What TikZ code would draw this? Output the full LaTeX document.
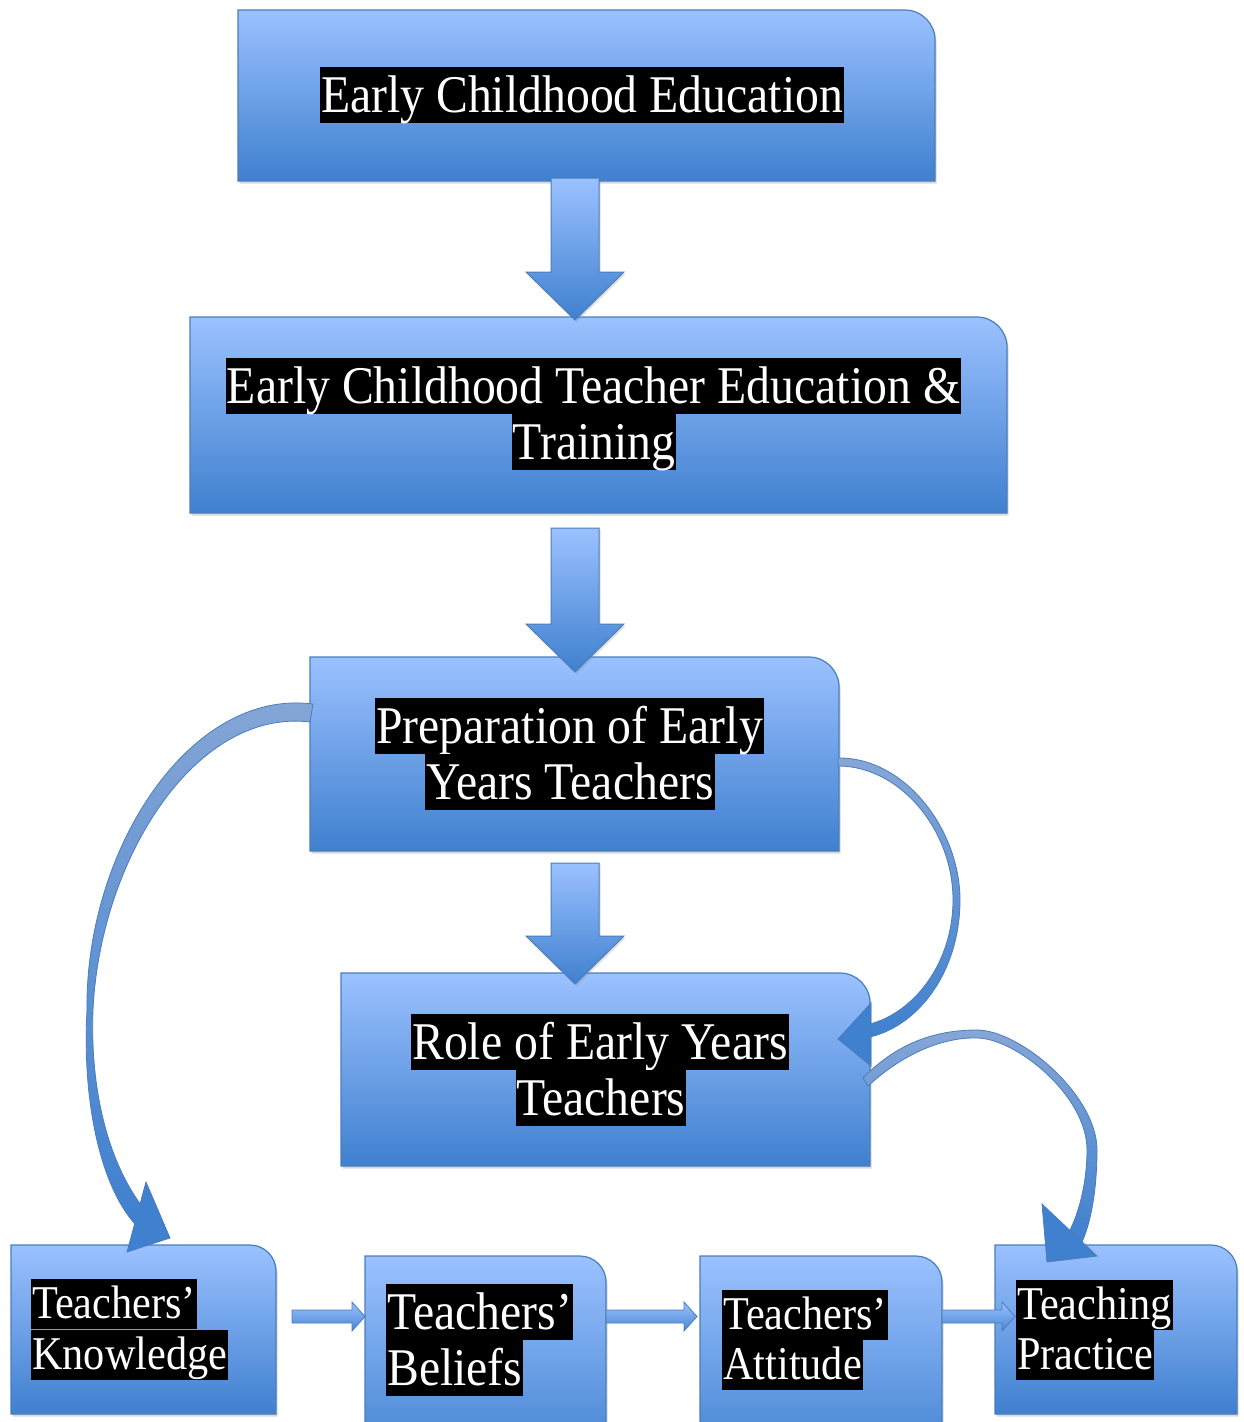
\documentclass[tikz,border=0pt]{standalone}
\usepackage{fontspec}
\setmainfont{Liberation Serif}[FakeStretch=0.9]
\usetikzlibrary{calc,shadows}
\definecolor{boxtop}{HTML}{9BC1FF}
\definecolor{boxbot}{HTML}{3F80CF}
\definecolor{boxline}{HTML}{4A7EBB}
\definecolor{arrtop}{HTML}{86A6D6}
\tikzset{
  boxarea/.style={rectangle, inner sep=0pt, outer sep=0pt},
  boxbody/.style={top color=boxtop, bottom color=boxbot, draw=boxline, line width=1.2pt,
    drop shadow={shadow xshift=1.5pt, shadow yshift=-2.5pt, opacity=0.3}},
  bigarrow/.style={top color=boxtop, bottom color=boxbot, draw=boxline, line width=1pt,
    drop shadow={shadow xshift=1.5pt, shadow yshift=-2pt, opacity=0.25}},
  smallarrow/.style={top color=boxtop, bottom color=boxbot!90!boxtop, draw=boxline, line width=0.8pt},
  curvebody/.style={top color=arrtop, bottom color=boxbot, draw=boxline, line width=0.8pt},
  curvehead/.style={fill=boxbot, draw=boxline, line width=0.8pt},
  lblA/.style={fill=black, text=white, inner xsep=1pt, inner ysep=0.5pt,
    font=\fontsize{53}{56}\selectfont, text height=45pt, text depth=10pt},
  lblB/.style={fill=black, text=white, inner xsep=1pt, inner ysep=0.5pt,
    font=\fontsize{47}{50}\selectfont, text height=39pt, text depth=10pt}
}
\newcommand\drawbox[2]{%
  \path[boxbody] (#1.south west) -- (#1.north west) -- ([xshift=-#2]#1.north east)
    .. controls ([xshift=-0.45*#2]#1.north east) and ([yshift=-0.45*#2]#1.north east)
    .. ([yshift=-#2]#1.north east) -- (#1.south east) -- cycle;}
\newcommand\vblock[4]{%
  \path[bigarrow] let \p1=(#1.south), \p2=(#2.north) in
    (551pt,\y1+#3) -- (599pt,\y1+#3) -- (599pt,\y2+#4+48pt) -- (624pt,\y2+#4+48pt)
    -- (575pt,\y2+#4) -- (526pt,\y2+#4+48pt) -- (551pt,\y2+#4+48pt) -- cycle;}
\newcommand\hblock[4]{%
  \path[smallarrow] let \p1=(#1.east), \p2=(#2.west) in
    (\x1+#3,-1310pt) -- (\x2+#4-13pt,-1310pt) -- (\x2+#4-13pt,-1302pt) -- (\x2+#4,-1316.5pt)
    -- (\x2+#4-13pt,-1331pt) -- (\x2+#4-13pt,-1323pt) -- (\x1+#3,-1323pt) -- cycle;}
\begin{document}
\begin{tikzpicture}[x=1pt,y=-1pt]
\clip (0,0) rectangle (1244,1422);
\fill[white] (0,0) rectangle (1244,1422);
% box areas
\node[boxarea, minimum width=697pt, minimum height=171pt] (ece) at (586.5,95.5) {};
\node[boxarea, minimum width=817pt, minimum height=196pt] (ecte) at (598.5,415) {};
\node[boxarea, minimum width=529pt, minimum height=194pt] (prep) at (574.5,754) {};
\node[boxarea, minimum width=529pt, minimum height=193pt] (role) at (605.5,1069.5) {};
\node[boxarea, minimum width=265pt, minimum height=169pt] (know) at (143.5,1329.5) {};
\node[boxarea, minimum width=241pt, minimum height=214pt] (beli) at (485.5,1363) {};
\node[boxarea, minimum width=242pt, minimum height=214pt] (atti) at (821,1363) {};
\node[boxarea, minimum width=242pt, minimum height=169pt] (prac) at (1116,1329.5) {};
% box bodies
\drawbox{ece}{30pt}
\drawbox{ecte}{30pt}
\drawbox{prep}{30pt}
\drawbox{role}{30pt}
\drawbox{know}{26pt}
\drawbox{beli}{26pt}
\drawbox{atti}{26pt}
\drawbox{prac}{26pt}
% straight block arrows
\vblock{ece}{ecte}{3pt}{-3pt}
\vblock{ecte}{prep}{-15pt}{-15pt}
\vblock{prep}{role}{-12pt}{-11pt}
% small arrows
\hblock{know}{beli}{16pt}{0pt}
\hblock{beli}{atti}{0pt}{-3pt}
\hblock{atti}{prac}{0pt}{20pt}
% curved arrow: preparation -> knowledge
\path[curvebody] (310,722) -- (313,704) .. controls (190,688) and (85,850) .. (87,1010)
  .. controls (82,1100) and (100,1185) .. (135,1224) -- (141,1205)
  .. controls (108,1160) and (90,1090) .. (93,1010)
  .. controls (100,860) and (195,708) .. (310,722) -- cycle;
\path[curvehead] (146,1182) -- (170,1238) -- (127,1252) -- cycle;
% curved arrow: preparation -> role
\path[curvebody] (838,766) -- (838,758) .. controls (905,757) and (960,830) .. (960,900)
  .. controls (960,970) and (920,1025) .. (870,1037) -- (870,1024)
  .. controls (915,1012) and (953,962) .. (953,900)
  .. controls (953,830) and (900,766) .. (838,766) -- cycle;
\path[curvehead] (838,1039) -- (871,1003) -- (871,1066) -- cycle;
% curved arrow: role -> teaching practice
\path[curvebody] (868,1086) -- (863,1078) .. controls (900,1040) and (940,1030) .. (977,1030)
  .. controls (1020,1030) and (1097,1095) .. (1097,1150)
  .. controls (1097,1185) and (1092,1220) .. (1082,1242) -- (1070,1230)
  .. controls (1080,1210) and (1087,1180) .. (1087,1150)
  .. controls (1087,1095) and (1015,1038) .. (977,1038)
  .. controls (945,1037) and (905,1052) .. (868,1086) -- cycle;
\path[curvehead] (1042,1204) -- (1097,1256) -- (1047,1262) -- cycle;
% labels
\node[lblA] (t1) at (582,95) {Early Childhood Education};
\node[lblA] (t2a) at (593.5,385.5) {Early Childhood Teacher Education \&};
\node[lblA] (t2b) at (594,441.5) {Training};
\node[lblA] (t3a) at (569.5,725.5) {Preparation of Early};
\node[lblA] (t3b) at (570,781.5) {Years Teachers};
\node[lblA] (t4a) at (600,1041.5) {Role of Early Years};
\node[lblA] (t4b) at (601,1097.5) {Teachers};
\node[lblB, anchor=west] (t5a) at (31,1304) {Teachers’};
\node[lblB, anchor=west] (t5b) at (31,1354.5) {Knowledge};
\node[lblA, anchor=west] (t6a) at (386,1312) {Teachers’};
\node[lblA, anchor=west] (t6b) at (386,1368) {Beliefs};
\node[lblB, anchor=west] (t7a) at (722,1315) {Teachers’};
\node[lblB, anchor=west] (t7b) at (722,1365) {Attitude};
\node[lblB, anchor=west] (t8a) at (1016,1305) {Teaching};
\node[lblB, anchor=west] (t8b) at (1016,1355) {Practice};
\end{tikzpicture}
\end{document}
